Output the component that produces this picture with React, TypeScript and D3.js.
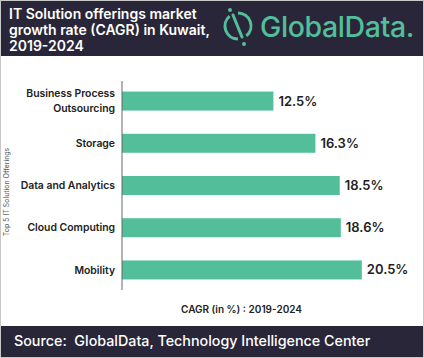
import React from "react";
import * as d3 from "d3";

const categories = [
  "Business Process Outsourcing",
  "Storage",
  "Data and Analytics",
  "Cloud Computing",
  "Mobility",
];
const catLines = [
  ["Business Process", "Outsourcing"],
  ["Storage"],
  ["Data and Analytics"],
  ["Cloud Computing"],
  ["Mobility"],
];
const values = [12.5, 16.3, 18.5, 18.6, 20.5];
const titleLines = [
  "IT Solution offerings market",
  "growth rate (CAGR) in Kuwait,",
  "2019-2024",
];

const W = 424;
const H = 358;
const navy = "#2a2639";
const teal = "#52be9a";
const font = "Inter, 'Open Sans', sans-serif";

export default function App() {
  const x = d3.scaleLinear().domain([-1.2, 22]).range([122, 378.4]);
  const y = d3
    .scaleBand<string>()
    .domain(categories)
    .range([81, 290])
    .paddingInner(0.55)
    .paddingOuter(0.25);

  // logo ring arcs
  const arc = d3.arc<any>().innerRadius(11.5).outerRadius(14.5);
  const leftArc = arc({ startAngle: (200 * Math.PI) / 180, endAngle: (340 * Math.PI) / 180 } as any);
  const rightArc = arc({ startAngle: (20 * Math.PI) / 180, endAngle: (160 * Math.PI) / 180 } as any);

  return (
    <svg
      width={W}
      height={H}
      style={{ position: "absolute", left: 0, top: 0, background: "#fff" }}
      fontFamily={font}
    >
      <rect x={0} y={0} width={W} height={56} fill={navy} />
      {titleLines.map((t, i) => (
        <text key={i} x={9} y={18.5 + i * 16} fill="#fff" fontSize={14} fontWeight={600}>
          {t}
        </text>
      ))}
      <g transform="translate(238,26)">
        <path d={leftArc || ""} fill={teal} transform="rotate(-20)" />
        <path d={rightArc || ""} fill={teal} transform="rotate(-20)" />
        <line x1={-5} y1={-11} x2={4} y2={11} stroke={teal} strokeWidth={3} strokeLinecap="round" />
        <circle cx={-8} cy={-16} r={2} fill={teal} />
        <circle cx={6} cy={18} r={2} fill={teal} />
      </g>
      <text x={260} y={37} fill={teal} fontSize={28.5} fontWeight={500} letterSpacing={-0.4}>
        GlobalData.
      </text>

      <text
        transform={`translate(9,${192}) rotate(-90)`}
        textAnchor="middle"
        fontSize={7}
        fill="#555"
      >
        Top 5 IT Solution Offerings
      </text>

      {categories.map((c, i) => {
        const yc = (y(c) || 0) + y.bandwidth() / 2;
        const lines = catLines[i];
        return (
          <g key={c}>
            <rect x={x(-1.2)} y={y(c)} width={x(values[i]) - x(-1.2)} height={y.bandwidth()} fill={teal} />
            {lines.map((l, j) => (
              <text
                key={j}
                x={115}
                y={yc + (j - (lines.length - 1) / 2) * 15}
                dy="0.35em"
                textAnchor="end"
                fontSize={10.4}
                fontWeight={600}
                fill="#222"
              >
                {l}
              </text>
            ))}
            <text x={x(values[i]) + 5} y={yc} dy="0.35em" fontSize={13} fontWeight={600} fill="#222">
              {values[i].toFixed(1)}%
            </text>
          </g>
        );
      })}
      <line x1={122} x2={122} y1={81} y2={290} stroke="#666" strokeWidth={1} />

      <text x={241.5} y={309} dy="0.35em" textAnchor="middle" fontSize={10} fontWeight={600} fill="#222">
        CAGR (in %) : 2019-2024
      </text>

      <rect x={0} y={326} width={W} height={H - 326} fill={navy} />
      <text x={14} y={341} dy="0.35em" fill="#fff" fontSize={14.3} fontWeight={500} xmlSpace="preserve">
        {"Source:  GlobalData, Technology Intelligence Center"}
      </text>
      <rect x={0.5} y={0.5} width={W - 1} height={H - 1} fill="none" stroke="#c8c8c8" strokeWidth={1} />
    </svg>
  );
}
